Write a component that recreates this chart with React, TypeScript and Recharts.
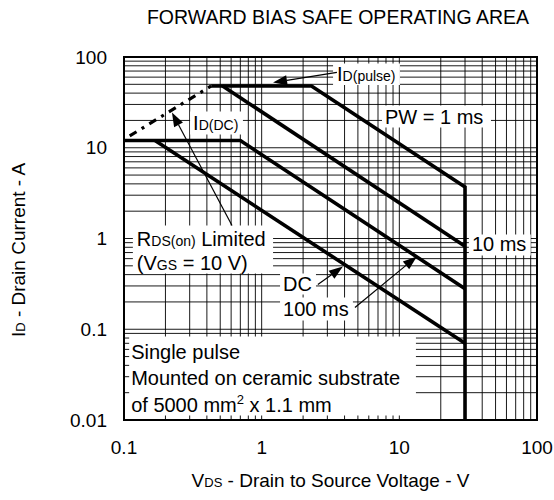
import React from 'react';
import {
  ComposedChart,
  Line,
  XAxis,
  YAxis,
  CartesianGrid,
  ReferenceArea,
  ReferenceLine,
} from 'recharts';

// ---- axis ticks (log grid) ----
const xGridTicks = [
  0.1, 0.2, 0.3, 0.4, 0.5, 0.6, 0.7, 0.8, 0.9,
  1, 2, 3, 4, 5, 6, 7, 8, 9,
  10, 20, 30, 40, 50, 60, 70, 80, 90, 100,
];
const xTickLabels = [0.1, 1, 10, 100];
const yGridTicks = [
  0.01, 0.02, 0.03, 0.04, 0.05, 0.06, 0.07, 0.08, 0.09,
  0.1, 0.2, 0.3, 0.4, 0.5, 0.6, 0.7, 0.8, 0.9,
  1, 2, 3, 4, 5, 6, 7, 8, 9,
  10, 20, 30, 40, 50, 60, 70, 80, 90, 100,
];
const yTickLabels = [0.01, 0.1, 1, 10, 100];

// ---- series (V_DS in V, I_D in A) ----
const pw1msV = [0.43, 2.3, 30, 30];
const pw1msI = [48, 48, 3.7, 0.01];
const pw10msV = [0.52, 30];
const pw10msI = [48, 0.82];
const pw100msV = [0.1, 0.7, 30];
const pw100msI = [12, 12, 0.28];
const dcV = [0.168, 30];
const dcI = [12, 0.07];
const rdsLimitV = [0.11, 0.43];
const rdsLimitI = [13.5, 48];

const toPoints = (v: number[], i: number[]) => v.map((x, k) => ({ v: x, i: i[k] }));

const FONT = '"Liberation Sans", Arial, Helvetica, sans-serif';
const FS = 20;

type Seg = [string, number];

const makeBoxLabel = (padX: number, lines: { base: number; segs: Seg[] }[]) => (props: any) => {
  const vb = props.viewBox || {};
  return (
    <g>
      {lines.map((ln, k) => (
        <text
          key={k}
          x={vb.x + padX}
          y={vb.y + ln.base}
          fontSize={FS}
          fontFamily={FONT}
          fill="#000"
        >
          {ln.segs.map(([t, f], j) => {
            if (f === -1) {
              return (
                <tspan key={j} fontSize={FS * 0.65} dy={-8}>
                  {t}
                </tspan>
              );
            }
            if (f === -2) {
              return (
                <tspan key={j} dy={8}>
                  {t}
                </tspan>
              );
            }
            return (
              <tspan key={j} fontSize={FS * f}>
                {t}
              </tspan>
            );
          })}
        </text>
      ))}
    </g>
  );
};

const arrowShape = (props: any) => {
  const { x1, y1, x2, y2 } = props;
  const dx = x2 - x1;
  const dy = y2 - y1;
  const len = Math.hypot(dx, dy) || 1;
  const ux = dx / len;
  const uy = dy / len;
  const L = 14;
  const W = 5;
  const bx = x2 - ux * L;
  const by = y2 - uy * L;
  const p1 = `${bx - uy * W},${by + ux * W}`;
  const p2 = `${bx + uy * W},${by - ux * W}`;
  return (
    <g>
      <line x1={x1} y1={y1} x2={bx} y2={by} stroke="#000" strokeWidth={1.2} />
      <polygon points={`${x2},${y2} ${p1} ${p2}`} fill="#000" />
    </g>
  );
};

const xFmt = (v: number) => (xTickLabels.includes(v) ? String(v) : '');
const yFmt = (v: number) => (yTickLabels.includes(v) ? String(v) : '');

const xTitle = (props: any) => {
  const vb = props.viewBox || {};
  return (
    <text
      x={vb.x + vb.width / 2}
      y={479}
      textAnchor="middle"
      fontSize={19}
      fontFamily={FONT}
      fill="#000"
    >
      <tspan>V</tspan>
      <tspan fontSize={13}>DS</tspan>
      <tspan> - Drain to Source Voltage - V</tspan>
    </text>
  );
};

const yTitle = () => (
  <text
    x={17}
    y={242}
    transform="rotate(-90, 17, 242)"
    textAnchor="middle"
    fontSize={19}
    fontFamily={FONT}
    fill="#000"
  >
    <tspan>I</tspan>
    <tspan fontSize={13}>D</tspan>
    <tspan> - Drain Current - A</tspan>
  </text>
);

const boxProps = { fill: '#fff', fillOpacity: 1, stroke: 'none', ifOverflow: 'visible' as const, zIndex: -50 };
const arrowProps = { ifOverflow: 'visible' as const, zIndex: 450, shape: arrowShape };
const lineProps = {
  type: 'linear' as const,
  dataKey: 'i',
  stroke: '#000',
  strokeWidth: 3.6,
  dot: false,
  activeDot: false,
  isAnimationActive: false,
  legendType: 'none' as const,
};

export default function App() {
  return (
    <div style={{ position: 'relative', width: 554, height: 500, overflow: 'hidden' }}>
      <style>{'html,body{margin:0 !important;padding:0;overflow:hidden;} .recharts-surface{overflow:visible;}'}</style>
      <div style={{ position: 'absolute', left: 8, top: 8, width: 546, height: 484 }}>
        <div
          style={{
            position: 'absolute',
            left: 80,
            width: 500,
            top: -1,
            textAlign: 'center',
            fontFamily: FONT,
            fontSize: 19.5,
            lineHeight: '20px',
            color: '#000',
            whiteSpace: 'nowrap',
          }}
        >
          FORWARD BIAS SAFE OPERATING AREA
        </div>
        <ComposedChart width={546} height={484} margin={{ top: 49, right: 17, bottom: 0, left: 0 }}>
          <CartesianGrid stroke="#000" strokeWidth={1} strokeOpacity={0.9} />
          <XAxis
            dataKey="v"
            type="number"
            scale="log"
            domain={[0.1, 100]}
            allowDataOverflow
            ticks={xGridTicks}
            interval={0}
            tickFormatter={xFmt}
            tickLine={false}
            axisLine={false}
            tickSize={0}
            tickMargin={21}
            height={72}
            tick={{ fill: '#000', fontSize: 19, fontFamily: FONT }}
            label={xTitle}
          />
          <YAxis
            dataKey="i"
            type="number"
            scale="log"
            domain={[0.01, 100]}
            allowDataOverflow
            ticks={yGridTicks}
            interval={0}
            tickFormatter={yFmt}
            tickLine={false}
            axisLine={false}
            tickSize={0}
            tickMargin={17}
            width={116}
            tick={{ fill: '#000', fontSize: 19, fontFamily: FONT }}
            label={yTitle}
          />

          {/* white label backgrounds with annotation text */}
          <ReferenceArea
            x1={3.3} x2={10.1} y1={49} y2={85}
            {...boxProps}
            label={makeBoxLabel(4, [{ base: 18, segs: [['I', 1], ['D(pulse)', 0.7]] }])}
          />
          <ReferenceArea
            x1={7.48} x2={46.3} y1={16.7} y2={29.2}
            {...boxProps}
            label={makeBoxLabel(3, [{ base: 18, segs: [['PW = 1 ms', 1]] }])}
          />
          <ReferenceArea
            x1={32} x2={90} y1={0.65} y2={1.107}
            {...boxProps}
            label={makeBoxLabel(3, [{ base: 17, segs: [['10 ms', 1]] }])}
          />
          <ReferenceArea
            x1={0.302} x2={0.731} y1={14} y2={25.1}
            {...boxProps}
            label={makeBoxLabel(3, [{ base: 19, segs: [['I', 1], ['D(DC)', 0.7]] }])}
          />
          <ReferenceArea
            x1={0.116} x2={1.21} y1={0.411} y2={1.39}
            {...boxProps}
            label={makeBoxLabel(4, [
              { base: 20, segs: [['R', 1], ['DS(on)', 0.7], [' Limited', 1]] },
              { base: 44, segs: [['(V', 1], ['GS', 0.7], [' = 10 V)', 1]] },
            ])}
          />
          <ReferenceArea
            x1={1.36} x2={2.48} y1={0.241} y2={0.411}
            {...boxProps}
            label={makeBoxLabel(3, [{ base: 17, segs: [['DC', 1]] }])}
          />
          <ReferenceArea
            x1={1.36} x2={4.6} y1={0.125} y2={0.224}
            {...boxProps}
            label={makeBoxLabel(3, [{ base: 19, segs: [['100 ms', 1]] }])}
          />
          <ReferenceArea
            x1={0.109} x2={13.2} y1={0.0112} y2={0.083}
            {...boxProps}
            label={makeBoxLabel(2, [
              { base: 22, segs: [['Single pulse', 1]] },
              { base: 48, segs: [['Mounted on ceramic substrate', 1]] },
              { base: 75, segs: [['of 5000 mm', 1], ['2', -1], [' x 1.1 mm', -2]] },
            ])}
          />

          {/* SOA boundary curves */}
          <Line {...lineProps} data={toPoints(rdsLimitV, rdsLimitI)} strokeWidth={3.2} strokeDasharray="8 6 3 6" />
          <Line {...lineProps} data={toPoints(pw1msV, pw1msI)} />
          <Line {...lineProps} data={toPoints(pw10msV, pw10msI)} />
          <Line {...lineProps} data={toPoints(pw100msV, pw100msI)} />
          <Line {...lineProps} data={toPoints(dcV, dcI)} />

          {/* leader arrows */}
          <ReferenceLine segment={[{ x: 3.52, y: 67.6 }, { x: 1.21, y: 52.4 }]} {...arrowProps} />
          <ReferenceLine segment={[{ x: 0.609, y: 1.39 }, { x: 0.223, y: 24.5 }]} {...arrowProps} />
          <ReferenceLine segment={[{ x: 2.56, y: 0.311 }, { x: 3.89, y: 0.491 }]} {...arrowProps} />
          <ReferenceLine segment={[{ x: 4.76, y: 0.174 }, { x: 13.4, y: 0.634 }]} {...arrowProps} />

          {/* plot frame */}
          <ReferenceArea
            x1={0.1} x2={100} y1={0.01} y2={100}
            fill="none" fillOpacity={0} stroke="#000" strokeWidth={2}
            ifOverflow="visible" zIndex={600}
          />
        </ComposedChart>
      </div>
    </div>
  );
}
